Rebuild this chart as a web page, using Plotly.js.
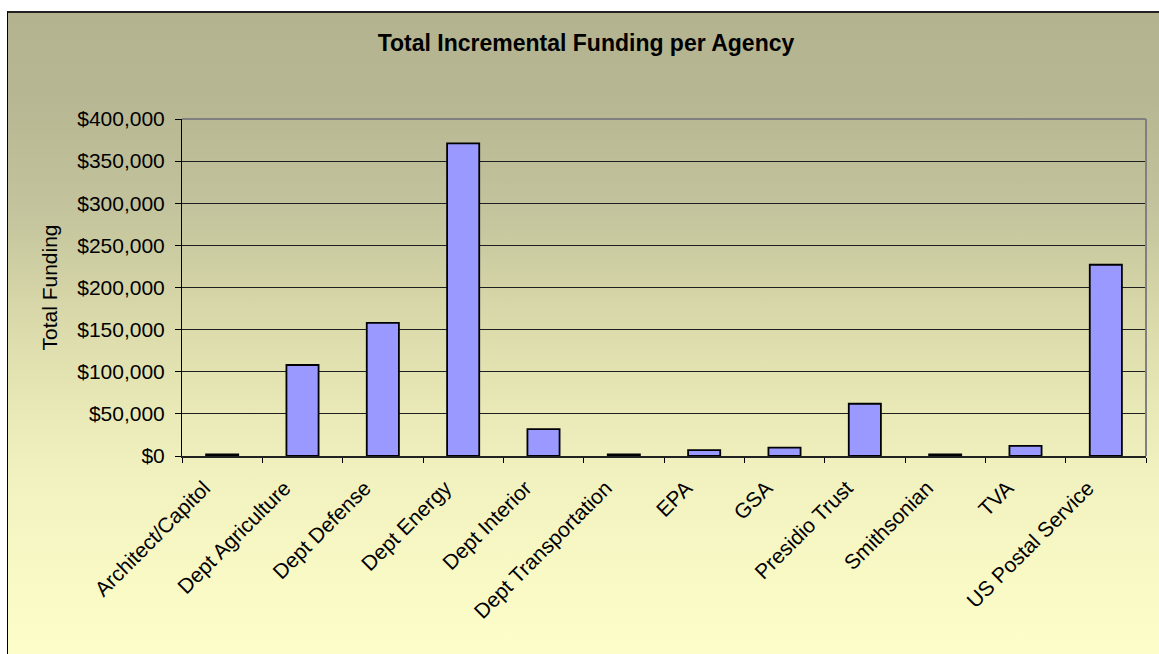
<!DOCTYPE html>
<html>
<head>
<meta charset="utf-8">
<script src="https://cdn.plot.ly/plotly-3.0.1.min.js"></script>
<style>
  html, body { margin: 0; padding: 0; background: #ffffff; overflow: hidden; width: 1159px; height: 654px; }
  #frame {
    position: absolute; left: 7px; top: 11px; width: 1200px; height: 700px;
    border-left: 1.5px solid #000; border-top: 2px solid #222;
    background: linear-gradient(to bottom,
      #b3b38f 0px, #b7b793 89px, #c2c29c 189px, #d6d6a8 289px,
      #e8e8b6 389px, #f1f1bf 459px, #f8f8c5 549px, #fdfdca 639px, #ffffcc 700px);
  }
  #chart { position: absolute; left: 0; top: 0; width: 1159px; height: 654px; }
</style>
</head>
<body>
<div id="frame"></div>
<div id="chart"></div>
<script>
const agencies = ["Architect/Capitol", "Dept Agriculture", "Dept Defense", "Dept Energy",
  "Dept Interior", "Dept Transportation", "EPA", "GSA", "Presidio Trust",
  "Smithsonian", "TVA", "US Postal Service"];
const funding = [2000, 108000, 158000, 371000, 32000, 2000, 7000, 10000, 62000, 2000, 12000, 227000];
const yTickValues = [0, 50000, 100000, 150000, 200000, 250000, 300000, 350000, 400000];
const yTickLabels = yTickValues.map(v => "$" + v.toLocaleString("en-US"));

const font = "Liberation Sans, Arial, sans-serif";

const trace = {
  type: "bar",
  x: agencies,
  y: funding,
  marker: { color: "#9999ff", line: { color: "#000000", width: 1.8 } },
  hoverinfo: "x+y"
};

const layout = {
  width: 1159,
  height: 654,
  paper_bgcolor: "rgba(0,0,0,0)",
  plot_bgcolor: "rgba(0,0,0,0)",
  margin: { l: 182, r: 13, t: 119, b: 197.5, pad: 0 },
  bargap: 0.6,
  showlegend: false,
  font: { family: font, color: "#000000", size: 21 },
  title: {
    text: "<b>Total Incremental Funding per Agency</b>",
    font: { family: font, size: 23, color: "#000000" },
    xref: "container", x: 0.5056, xanchor: "center",
    yref: "container", y: 1 - 43 / 654, yanchor: "middle"
  },
  xaxis: {
    type: "category",
    tickangle: -45,
    ticks: "outside",
    tickson: "boundaries",
    ticklen: 5,
    tickcolor: "#000000",
    tickwidth: 1,
    ticklabelstandoff: 10,
    ticklabelshift: -18,
    showline: true,
    linecolor: "#222222",
    linewidth: 1.5,
    showgrid: false,
    tickfont: { family: font, size: 21, color: "#000000" },
    automargin: false
  },
  yaxis: {
    range: [0, 400000],
    tickmode: "array",
    tickvals: yTickValues,
    ticktext: yTickLabels,
    ticks: "outside",
    ticklen: 6,
    tickcolor: "#000000",
    ticklabelstandoff: 6,
    showline: true,
    linecolor: "#000000",
    linewidth: 1,
    showgrid: true,
    gridcolor: "#1e1e1e",
    gridwidth: 1,
    zeroline: false,
    tickfont: { family: font, size: 21, color: "#000000" },
    title: { text: "Total Funding", font: { family: font, size: 21, color: "#000000" }, standoff: 13 },
    automargin: false
  },
  shapes: [
    { type: "line", xref: "paper", yref: "paper", x0: 0, x1: 1, y0: 1, y1: 1, line: { color: "#808080", width: 2 }, layer: "above" },
    { type: "line", xref: "paper", yref: "paper", x0: 1, x1: 1, y0: 0, y1: 1, line: { color: "#808080", width: 2 }, layer: "above" }
  ]
};

Plotly.newPlot("chart", [trace], layout, { displayModeBar: false, staticPlot: true });
</script>
</body>
</html>
